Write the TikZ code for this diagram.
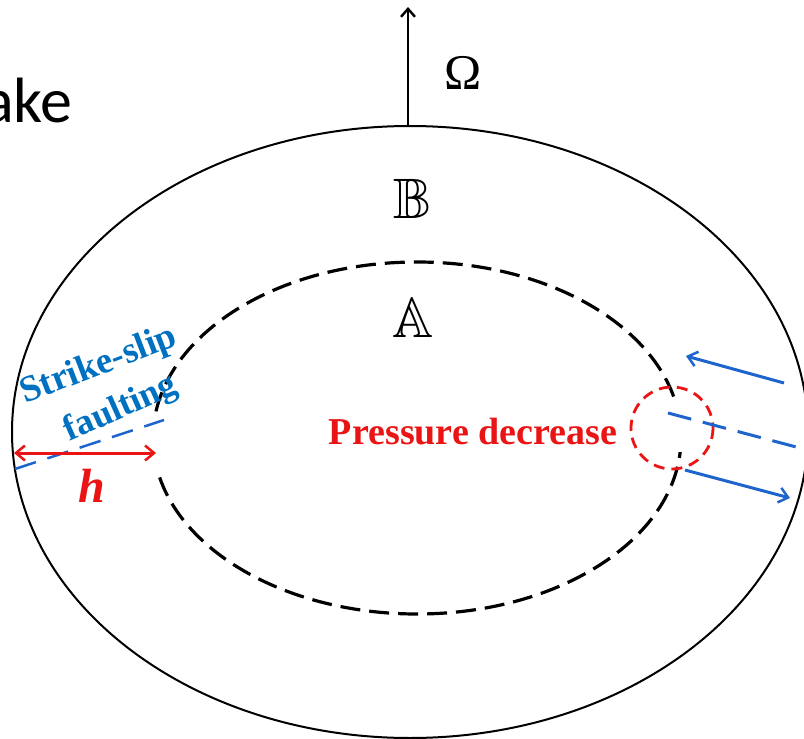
\documentclass[tikz,border=0pt]{standalone}
\usepackage{fontspec}
\usepackage{amssymb}
\setmainfont{Liberation Serif}
\newfontfamily\calfont{Carlito}
\usetikzlibrary{arrows.meta}
\definecolor{fblue}{RGB}{0,112,192}
\definecolor{ablue}{RGB}{30,100,205}
\definecolor{fred}{RGB}{235,20,20}
\tikzset{
  barb/.style={-{Straight Barb[length=9pt,width=15pt,line width=2.5pt]}},
  dbarb/.style={{Straight Barb[length=9pt,width=15pt,line width=2.5pt]}-{Straight Barb[length=9pt,width=15pt,line width=2.5pt]}},
  lbl/.style={inner sep=0pt,font=\bfseries},
}
\begin{document}
\begin{tikzpicture}[x=1pt,y=-1pt]
\useasboundingbox (0,0) rectangle (804,739);
\clip (0,0) rectangle (804,739);
% outer ellipse
\draw[line width=2pt] (410,432) ellipse [x radius=398, y radius=306];
% inner dashed ellipse
\draw[line width=3.2pt, dash pattern=on 20pt off 9pt] (417,438) ellipse [x radius=264, y radius=176];
% gaps
\fill[white] (146,418) rectangle (160,470);
\fill[white] (664,402) rectangle (684,452);
% Omega arrow
\coordinate (ob) at (408,126);
\coordinate (ot) at (408,7);
\draw[line width=2.4pt, -{Straight Barb[length=8pt,width=14pt,line width=2.4pt]}] (ob) -- (ot);
\node[inner sep=0pt,font=\fontsize{50}{50}\selectfont] (om) at (463,73) {Ω};
% ake
\node[inner sep=0pt,anchor=base east,font=\calfont\fontsize{64}{64}\selectfont] (ake) at (73,122) {ake};
% B and A
\node[inner sep=0pt,font=\fontsize{57}{57}\selectfont] (B) at (412,199) {$\mathbb{B}$};
\node[inner sep=0pt,font=\fontsize{57}{57}\selectfont] (A) at (413,318) {$\mathbb{A}$};
% strike-slip faulting
\node[lbl,text=fblue,rotate=21,font=\bfseries\fontsize{37}{37}\selectfont] (ss) at (99,366) {Strike-slip};
\node[lbl,text=fblue,rotate=24,font=\bfseries\fontsize{36}{36}\selectfont] (fa) at (121,409) {faulting};
\coordinate (fl1) at (15,469);
\coordinate (fl2) at (164,420);
\draw[ablue, line width=2.5pt, dash pattern=on 22pt off 12pt] (fl1) -- (fl2);
% h arrow
\coordinate (h1) at (14,453);
\coordinate (h2) at (156,453);
\draw[fred, line width=3pt, dbarb] (h1) -- (h2);
\node[lbl,text=fred,font=\bfseries\itshape\fontsize{48}{48}\selectfont] (h) at (92,486) {h};
% pressure decrease
\node[lbl,text=fred,font=\bfseries\fontsize{38}{38}\selectfont] (pd) at (473,432) {Pressure decrease};
\draw[fred, line width=2.8pt, dash pattern=on 11pt off 7pt] (672,428) circle [radius=41];
% blue arrows
\coordinate (a1s) at (784,383);
\coordinate (a1e) at (686,356);
\draw[ablue, line width=3pt, barb] (a1s) -- (a1e);
\coordinate (a2s) at (685,470);
\coordinate (a2e) at (790,498);
\draw[ablue, line width=3pt, barb] (a2s) -- (a2e);
\coordinate (d1) at (668,413);
\coordinate (d2) at (800,448);
\draw[ablue, line width=3pt, dash pattern=on 24pt off 12pt] (d1) -- (d2);
\end{tikzpicture}
\end{document}
